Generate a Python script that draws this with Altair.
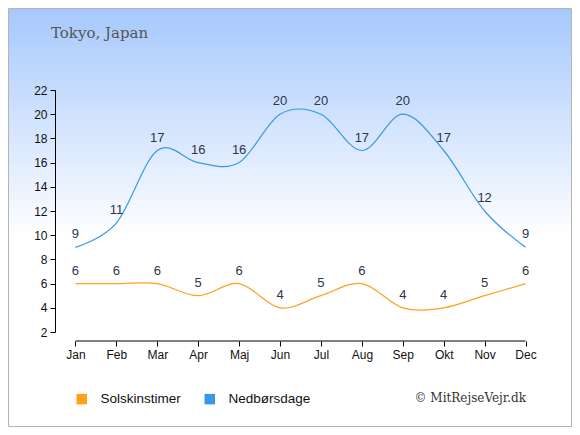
import altair as alt
import pandas as pd

months = ["Jan", "Feb", "Mar", "Apr", "Maj", "Jun", "Jul", "Aug", "Sep", "Okt", "Nov", "Dec"]
sun = [6, 6, 6, 5, 6, 4, 5, 6, 4, 4, 5, 6]
rain = [9, 11, 17, 16, 16, 20, 20, 17, 20, 17, 12, 9]
series = ["Solskinstimer", "Nedbørsdage"]
colors = ["#ffa01e", "#3a97e6"]
yticks = [2, 4, 6, 8, 10, 12, 14, 16, 18, 20, 22]

W, H = 491, 242
PL, PT = 47, 82
TW, TH = 564, 419

df = pd.DataFrame({
    "month": months * 2,
    "value": sun + rain,
    "series": [series[0]] * 12 + [series[1]] * 12,
})

xscale = alt.Scale(type="point", domain=months, padding=0.5)
yscale = alt.Scale(domain=[2, 22], nice=False, zero=False)
cscale = alt.Scale(domain=series, range=colors)

xaxis = alt.Axis(title=None, domain=False, labelAngle=0, labelAlign="center",
                 labelFont="Liberation Sans", labelFlush=False,
                 labelFontSize=12, labelColor="#111", tickColor="#000", tickSize=5,
                 offset=9, labelPadding=3, zindex=2)
yaxis = alt.Axis(title=None, values=yticks, grid=False, labelOverlap=False,
                 labelFont="Liberation Sans", labelFontSize=12, labelColor="#111",
                 domainColor="#000", tickColor="#000", tickSize=5, labelPadding=3,
                 labelFlush=False, zindex=2)

def X(f="month"):
    return alt.X(f"{f}:N", sort=None, scale=xscale, axis=xaxis)

def Y():
    return alt.Y("value:Q", scale=yscale, axis=yaxis)

bg = alt.Chart(pd.DataFrame({"k": [0]})).mark_rect(
    color=alt.LinearGradient(gradient="linear", x1=0, y1=0, x2=0, y2=1,
                             stops=[alt.GradientStop(color="#a6c8fc", offset=0),
                                    alt.GradientStop(color="#ffffff", offset=0.55),
                                    alt.GradientStop(color="#ffffff", offset=1)]),
    stroke="#b4b4b4", strokeWidth=1
).encode(x=alt.value(-PL + 0.5), x2=alt.value(TW - PL - 0.5),
         y=alt.value(-PT + 0.5), y2=alt.value(TH - PT - 0.5))

leg = alt.Legend(title=None, orient="none", direction="horizontal",
                 legendX=20, legendY=302, symbolType="square",
                 symbolSize=110, symbolStrokeWidth=0, symbolOpacity=1,
                 labelFont="Liberation Sans", labelFontSize=13.5,
                 labelColor="#111", columnPadding=22, labelOffset=12)

lines = alt.Chart(df).mark_line(interpolate="cardinal", strokeWidth=1.2).encode(
    x=X(), y=Y(),
    color=alt.Color("series:N", sort=series, scale=cscale, legend=leg),
)

squares = alt.Chart(df).mark_square(size=0, opacity=1).encode(
    x=X(), y=Y(),
    color=alt.Color("series:N", sort=series, scale=cscale, legend=leg),
)

labels = alt.Chart(df).mark_text(baseline="bottom", dy=-6, fontSize=13,
                                 font="Liberation Sans", color="#2a3550").encode(
    x=X(), y=Y(), text="value:Q")

xline = alt.Chart(pd.DataFrame({"a": [months[0]], "b": [months[-1]]})).mark_rule(color="#000").encode(
    x=X("a"), x2="b", y=alt.value(H + 9))

title = alt.Chart(pd.DataFrame({"t": ["Tokyo, Japan"]})).mark_text(
    align="left", baseline="alphabetic", font="DejaVu Serif", fontSize=15, color="#555555"
).encode(x=alt.value(51 - 55), y=alt.value(38 - 90), text="t:N")

copy = alt.Chart(pd.DataFrame({"t": ["© MitRejseVejr.dk"]})).mark_text(
    align="right", baseline="middle", font="DejaVu Serif", fontSize=12, color="#333333"
).encode(x=alt.value(526 - 55), y=alt.value(398 - 90), text="t:N")

chart = alt.layer(bg, lines, squares, labels, xline, title, copy).properties(
    width=W, height=H, autosize=alt.AutoSizeParams(type="none"),
    padding={"left": PL, "top": PT, "right": TW - PL - W, "bottom": TH - PT - H},
).configure_view(strokeWidth=0).configure(background="white")

chart.save("out.html", embed_options={"renderer": "svg", "actions": False})
